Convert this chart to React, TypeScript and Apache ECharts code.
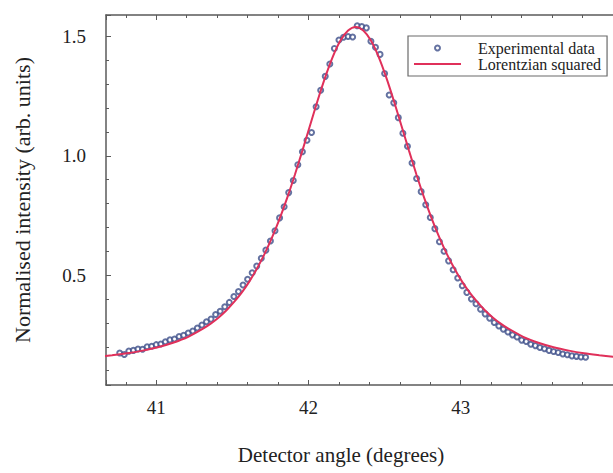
import React, { useEffect, useRef } from "react";
import * as echarts from "echarts";

// Experimental data (detector angle in degrees, normalised intensity)
const expX: number[] = [
  40.76, 40.79, 40.82, 40.85, 40.88, 40.91, 40.94, 40.97, 41.0, 41.03,
  41.06, 41.09, 41.12, 41.15, 41.18, 41.21, 41.24, 41.27, 41.3, 41.33,
  41.36, 41.39, 41.42, 41.45, 41.48, 41.51, 41.54, 41.57, 41.6, 41.63,
  41.66, 41.69, 41.72, 41.75, 41.78, 41.81, 41.84, 41.87, 41.9, 41.93,
  41.96, 41.99, 42.02, 42.05, 42.08, 42.11, 42.14, 42.17, 42.2, 42.23,
  42.26, 42.29, 42.32, 42.35, 42.38, 42.41, 42.44, 42.47, 42.5, 42.53,
  42.56, 42.59, 42.62, 42.65, 42.68, 42.71, 42.74, 42.77, 42.8, 42.83,
  42.86, 42.89, 42.92, 42.95, 42.98, 43.01, 43.04, 43.07, 43.1, 43.13,
  43.16, 43.19, 43.22, 43.25, 43.28, 43.31, 43.34, 43.37, 43.4, 43.43,
  43.46, 43.49, 43.52, 43.55, 43.58, 43.61, 43.64, 43.67, 43.7, 43.73,
  43.76, 43.79, 43.82,
];
const expY: number[] = [
  0.174, 0.168, 0.182, 0.185, 0.191, 0.19, 0.2, 0.202, 0.209, 0.212,
  0.221, 0.229, 0.233, 0.243, 0.248, 0.258, 0.266, 0.279, 0.291, 0.305,
  0.316, 0.335, 0.349, 0.368, 0.386, 0.411, 0.432, 0.459, 0.483, 0.51,
  0.538, 0.571, 0.605, 0.643, 0.686, 0.74, 0.787, 0.846, 0.897, 0.963,
  1.017, 1.065, 1.098, 1.206, 1.275, 1.333, 1.385, 1.45, 1.485, 1.497,
  1.5, 1.498, 1.545, 1.542, 1.536, 1.48, 1.455, 1.425, 1.345, 1.255,
  1.222, 1.16, 1.095, 1.04, 0.97, 0.905, 0.85, 0.795, 0.742, 0.695,
  0.64, 0.6, 0.56, 0.523, 0.488, 0.456, 0.428, 0.4, 0.38, 0.357,
  0.338, 0.32, 0.302, 0.287, 0.274, 0.262, 0.25, 0.241, 0.228, 0.222,
  0.211, 0.205, 0.197, 0.192, 0.185, 0.18, 0.176, 0.17, 0.167, 0.162,
  0.16, 0.157, 0.156,
];

// Lorentzian squared fit
const fitX: number[] = [
  40.61, 40.71, 40.81, 40.91, 41.01, 41.11, 41.21, 41.31, 41.36, 41.41,
  41.46, 41.51, 41.56, 41.61, 41.66, 41.71, 41.76, 41.81, 41.86, 41.91,
  41.96, 42.01, 42.06, 42.11, 42.16, 42.21, 42.26, 42.31, 42.36, 42.41,
  42.46, 42.51, 42.56, 42.61, 42.66, 42.71, 42.76, 42.81, 42.86, 42.91,
  42.96, 43.01, 43.06, 43.11, 43.16, 43.21, 43.26, 43.31, 43.41, 43.51,
  43.61, 43.71, 43.81, 43.91, 44.01,
];
const fitY: number[] = [
  0.158, 0.165, 0.173, 0.184, 0.198, 0.217, 0.242, 0.277, 0.298, 0.323,
  0.352, 0.387, 0.426, 0.472, 0.526, 0.587, 0.657, 0.736, 0.824, 0.92,
  1.022, 1.127, 1.232, 1.33, 1.416, 1.483, 1.525, 1.54, 1.525, 1.483,
  1.416, 1.33, 1.232, 1.127, 1.022, 0.92, 0.824, 0.736, 0.657, 0.587,
  0.526, 0.472, 0.426, 0.387, 0.352, 0.323, 0.298, 0.277, 0.242, 0.217,
  0.198, 0.184, 0.173, 0.165, 0.158,
];

const seriesNames: string[] = ["Experimental data", "Lorentzian squared"];
const xTitle = "Detector angle (degrees)";
const yTitle = "Normalised intensity (arb. units)";

const FONT = "Liberation Serif";
const AXIS_COLOR = "#5a5a5a";
const TEXT_COLOR = "#222222";
const FIT_COLOR = "#e0305a";
const EXP_COLOR = "#3d4f8a";

export default function App() {
  const ref = useRef<HTMLDivElement>(null);

  useEffect(() => {
    if (!ref.current) return;
    const chart = echarts.init(ref.current, undefined, { renderer: "svg" });

    const baseX = {
      type: "value" as const,
      min: 40.67,
      max: 44.0,
      splitNumber: 3,
      splitLine: { show: false },
      axisLine: { show: true, onZero: false, lineStyle: { color: AXIS_COLOR, width: 1.5 } },
      axisTick: { show: true, inside: true, length: 5, lineStyle: { color: AXIS_COLOR, width: 1 } },
      minorTick: { show: true, splitNumber: 5, length: 3, lineStyle: { color: AXIS_COLOR, width: 1 } },
    };

    chart.setOption({
      animation: false,
      backgroundColor: "#ffffff",
      textStyle: { fontFamily: FONT, color: TEXT_COLOR },
      grid: { left: 106, top: 15, bottom: 88, right: -14, containLabel: false },
      xAxis: [
        {
          ...baseX,
          position: "bottom",
          axisLabel: {
            show: true,
            showMinLabel: false,
            showMaxLabel: false,
            fontFamily: FONT,
            fontSize: 19,
            color: TEXT_COLOR,
            margin: 13,
          },
        },
        {
          ...baseX,
          position: "top",
          axisLabel: { show: false },
        },
      ],
      yAxis: {
        type: "value",
        min: 0.04,
        max: 1.59,
        splitNumber: 3,
        splitLine: { show: false },
        axisLine: { show: true, onZero: false, lineStyle: { color: AXIS_COLOR, width: 1.5 } },
        axisTick: { show: true, inside: true, length: 5, lineStyle: { color: AXIS_COLOR, width: 1 } },
        minorTick: { show: true, splitNumber: 5, length: 3, lineStyle: { color: AXIS_COLOR, width: 1 } },
        axisLabel: {
          showMinLabel: false,
          showMaxLabel: false,
          fontFamily: FONT,
          fontSize: 19,
          color: TEXT_COLOR,
          margin: 20,
          formatter: (v: number) => v.toFixed(1),
        },
      },
      legend: {
        orient: "vertical",
        left: 408,
        top: 36,
        padding: [4, 6, 4, 6],
        itemGap: 0,
        itemWidth: 47,
        itemHeight: 5,
        backgroundColor: "#ffffff",
        borderColor: "#6a6a6a",
        borderWidth: 1.2,
        textStyle: {
          fontFamily: FONT,
          fontSize: 16,
          lineHeight: 16,
          color: TEXT_COLOR,
          padding: [0, 0, 0, 12],
        },
        data: [
          { name: seriesNames[0] },
          { name: seriesNames[1], icon: "path://M0,0L47,0L47,2L0,2Z" },
        ],
      },
      graphic: [
        {
          type: "text",
          x: 22,
          y: 200,
          rotation: Math.PI / 2,
          style: {
            text: yTitle,
            fontFamily: FONT,
            fontSize: 22,
            fill: TEXT_COLOR,
            textAlign: "center",
            textVerticalAlign: "middle",
          },
        },
        {
          type: "text",
          x: 341,
          y: 455,
          style: {
            text: xTitle,
            fontFamily: FONT,
            fontSize: 21,
            fill: TEXT_COLOR,
            textAlign: "center",
            textVerticalAlign: "middle",
          },
        },
      ],
      series: [
        {
          name: seriesNames[0],
          type: "scatter",
          xAxisIndex: 0,
          symbol: "emptyCircle",
          symbolSize: 5,
          itemStyle: { color: EXP_COLOR, borderWidth: 1.2 },
          data: expX.map((x, i) => [x, expY[i]]),
        },
        {
          name: seriesNames[1],
          type: "line",
          xAxisIndex: 0,
          symbol: "none",
          smooth: 0.3,
          lineStyle: { color: FIT_COLOR, width: 2 },
          itemStyle: { color: FIT_COLOR },
          data: fitX.map((x, i) => [x, fitY[i]]),
        },
      ],
    });

    return () => chart.dispose();
  }, []);

  return (
    <div
      ref={ref}
      style={{ position: "fixed", left: 0, top: 0, width: 613, height: 473, background: "#fff" }}
    />
  );
}
